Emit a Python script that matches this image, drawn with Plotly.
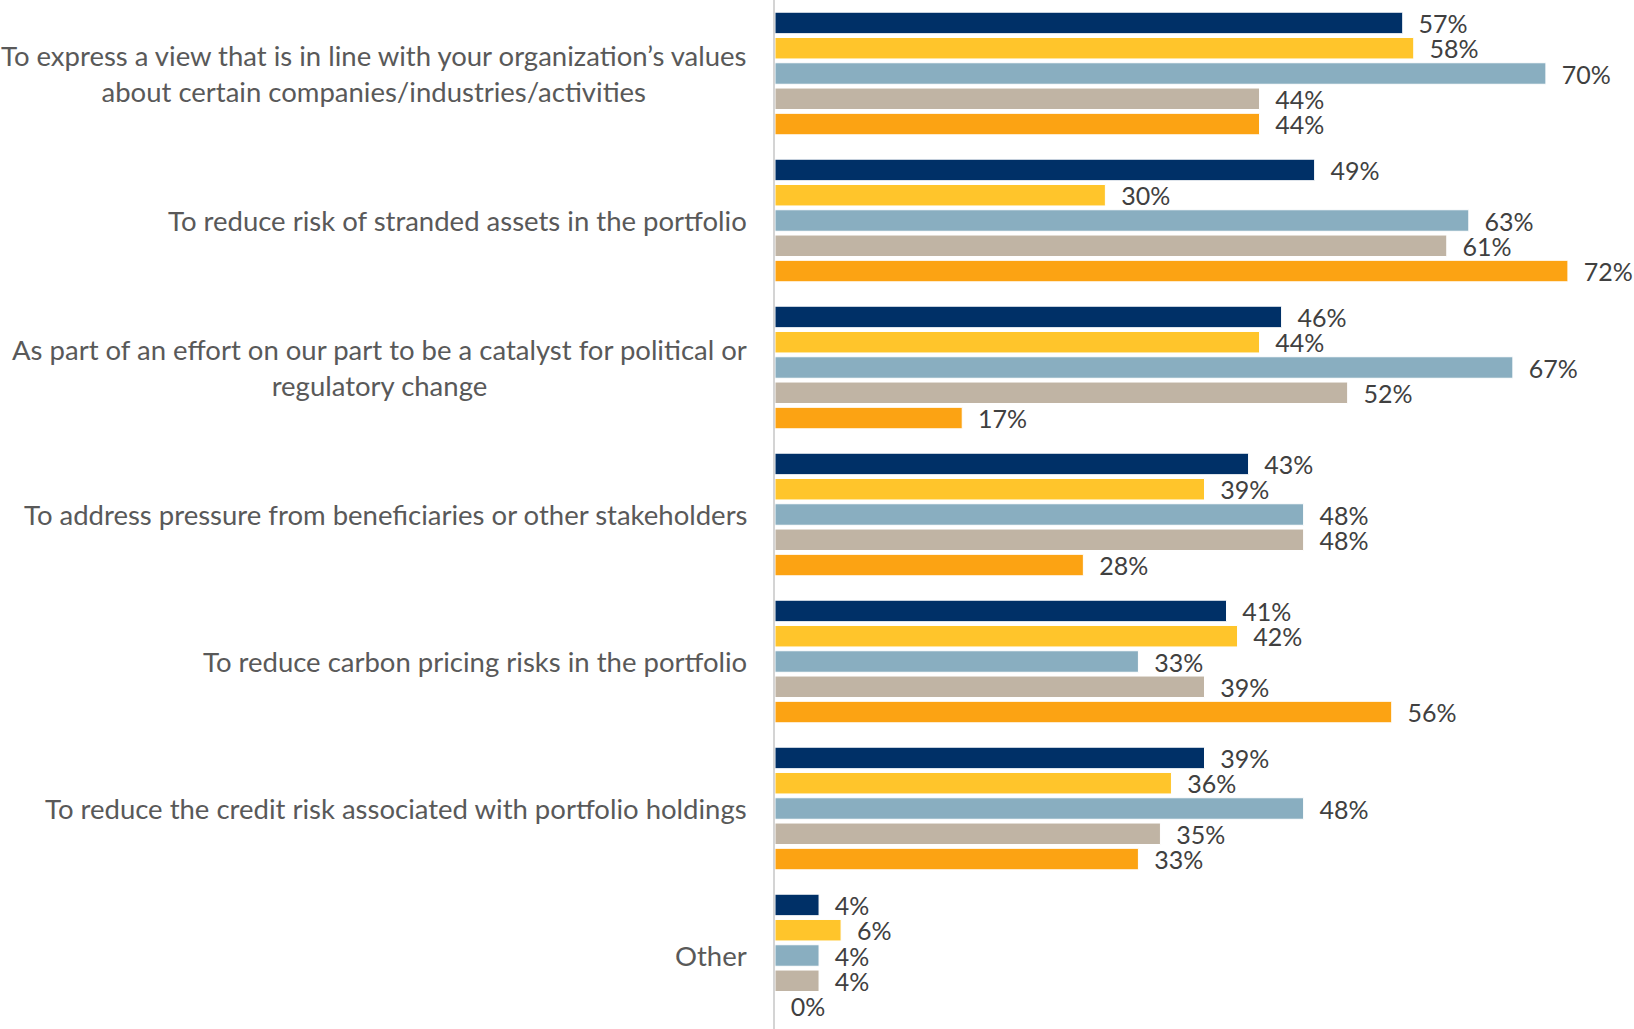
import plotly.graph_objects as go

# Reasons for taking climate-related action, share of respondents by group
categories = [
    "To express a view that is in line with your organization\u2019s values<br>about certain companies/industries/activities",
    "To reduce risk of stranded assets in the portfolio",
    "As part of an effort on our part to be a catalyst for political or<br>regulatory change",
    "To address pressure from beneficiaries or other stakeholders",
    "To reduce carbon pricing risks in the portfolio",
    "To reduce the credit risk associated with portfolio holdings",
    "Other",
]

series_names = ["Group A", "Group B", "Group C", "Group D", "Group E"]
group_a = [57, 49, 46, 43, 41, 39, 4]
group_b = [58, 30, 44, 39, 42, 36, 6]
group_c = [70, 63, 67, 48, 33, 48, 4]
group_d = [44, 61, 52, 48, 39, 35, 4]
group_e = [44, 72, 17, 28, 56, 33, 0]
series_values = [group_a, group_b, group_c, group_d, group_e]

colors = ["#003067", "#ffc52b", "#89aec0", "#c0b4a4", "#fca313"]

# category keys used on the axis (labels drawn as centred annotations)
cat_keys = [f"c{i}" for i in range(len(categories))]

fig = go.Figure()
for name, vals, col in zip(series_names, series_values, colors):
    fig.add_trace(go.Bar(
        y=cat_keys,
        x=vals,
        name=name,
        orientation="h",
        marker=dict(color=col, line=dict(color="#ffffff", width=1)),
        text=[f"\u00a0\u00a0{v}%" for v in vals],
        textposition="outside",
        constraintext="none",
        cliponaxis=False,
        textfont=dict(family="Lato", size=25, color="#404040"),
        hoverinfo="skip",
    ))

for key, label in zip(cat_keys, categories):
    fig.add_annotation(
        x=0, xref="paper", xanchor="right", xshift=-26,
        y=key, yref="y", yanchor="middle",
        text=label, showarrow=False, align="center",
        font=dict(family="Lato", size=27.5, color="#595959"),
    )

fig.update_layout(
    width=1634, height=1029,
    margin=dict(l=775, r=0, t=0, b=0),
    barmode="group",
    bargap=0.14,
    bargroupgap=0.15,
    plot_bgcolor="#ffffff",
    paper_bgcolor="#ffffff",
    showlegend=False,
)
fig.update_xaxes(range=[0, 78], visible=False, fixedrange=True)
fig.update_yaxes(
    autorange="reversed",
    showticklabels=False,
    showgrid=False,
    zeroline=False,
    showline=True, linecolor="#d4d4d4", linewidth=1.5,
    ticks="",
)

fig.write_html("out.html")
